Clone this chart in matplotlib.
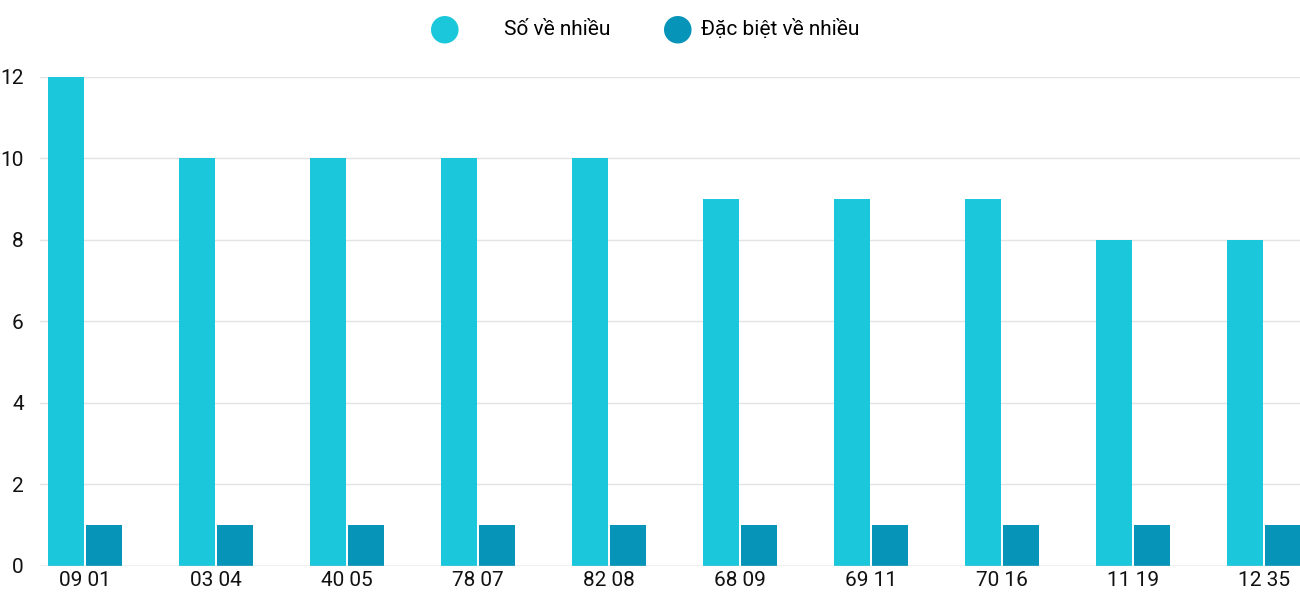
import matplotlib.pyplot as plt
import numpy as np

plt.rcParams['font.family'] = ['Roboto', 'DejaVu Sans']

pairs = ["09 01", "03 04", "40 05", "78 07", "82 08", "68 09", "69 11", "70 16", "11 19", "12 35"]
so_ve_nhieu = [12, 10, 10, 10, 10, 9, 9, 9, 8, 8]
dac_biet = [1, 1, 1, 1, 1, 1, 1, 1, 1, 1]

fig = plt.figure(figsize=(13, 6), dpi=100)
ax = fig.add_axes([0.031, 0.057, 0.969, 0.815])

x = np.arange(len(pairs))
w = 0.275
ax.bar(x - 0.145, so_ve_nhieu, w, color="#1BC8DB", label="Số về nhiều", zorder=3)
ax.bar(x + 0.145, dac_biet, w, color="#0694B8", label="Đặc biệt về nhiều", zorder=3)

ax.set_xlim(-0.344, 9.275)
ax.set_ylim(0, 12)
ax.set_yticks(range(0, 13, 2))
ax.set_xticks(x)
ax.set_xticklabels(pairs)
ax.tick_params(axis="both", length=0, labelsize=15, colors="#111111")
ax.tick_params(axis="y", pad=12)
ax.grid(axis="y", color="#e3e3e3", linewidth=1, zorder=0)
for s in ax.spines.values():
    s.set_visible(False)
ax.axhline(0, color="#cccccc", linewidth=1, zorder=4)

fig.legend(loc="upper center", ncol=2, frameon=False, fontsize=15,
           bbox_to_anchor=(0.51, 1.0), handlelength=1.0, handleheight=1.0,
           columnspacing=2.5, handletextpad=0.8)
leg = fig.legends[0]
for h in leg.legend_handles:
    h.set_visible(False)
for t, c in zip(leg.get_texts(), ["#1BC8DB", "#0694B8"]):
    pass
# circle markers for legend
fig.text(0.342, 0.953, "●", color="#1BC8DB", fontsize=26, ha="center", va="center", family="DejaVu Sans")
fig.text(0.521, 0.953, "●", color="#0694B8", fontsize=26, ha="center", va="center", family="DejaVu Sans")

fig.savefig("out.png")
